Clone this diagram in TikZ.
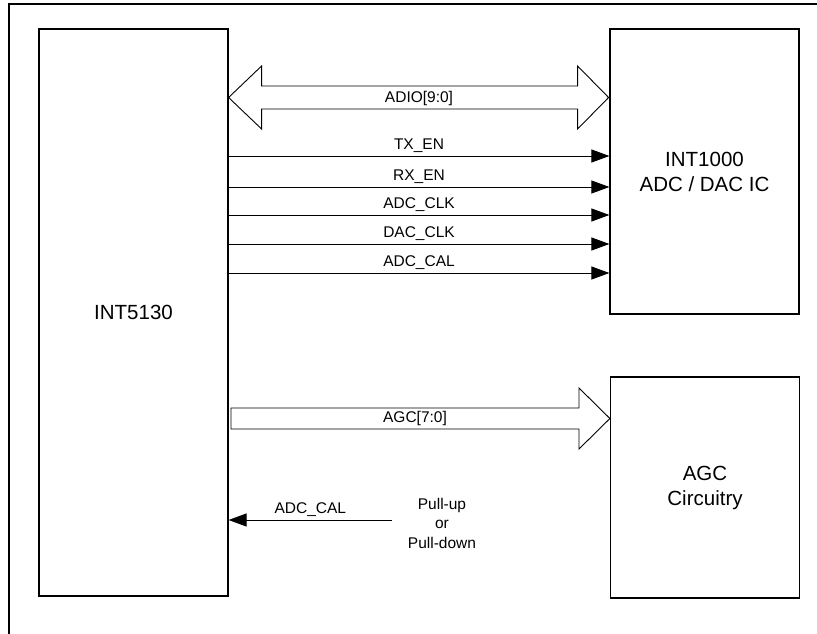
\documentclass[tikz,border=0pt]{standalone}
\usepackage{fontspec}
\setmainfont{Liberation Sans}
\usetikzlibrary{arrows.meta, positioning}

\begin{document}
\begin{tikzpicture}[x=1pt, y=-1pt, >={Triangle[length=18pt,width=13pt]},
  blk/.style={draw, line width=1.2pt, inner sep=0pt, align=center, font=\fontsize{20.5}{25}\selectfont},
  sig/.style={->, line width=1pt},
  lbl/.style={font=\fontsize{15.5}{19.5}\selectfont},
  bus/.style={draw, line width=0.9pt, fill=white}]
  \useasboundingbox (0,0) rectangle (817,634);

  % outer frame (only the top and left edges show)
  \draw[line width=1.2pt] (9,634) -- (9,4) -- (817,4);

  % blocks
  \node[blk, minimum width=189pt, minimum height=567pt] (int5130) at (133.5,312.5) {INT5130};
  \node[blk, minimum width=189pt, minimum height=285pt] (int1000) at (704.5,171.5) {INT1000\\ADC / DAC IC};
  \node[blk, minimum width=189pt, minimum height=221pt] (agc) at (705,487.5) {AGC\\Circuitry};

  % ADIO bus (both ways)
  \coordinate (adioL) at (int5130.east |- 0,97.5);
  \draw[bus] (adioL) -- ++(33,-31.5) -- ++(0,20) -- ++(316,0) -- ++(0,-20) -- ++(31,31.5)
    -- ++(-31,31.5) -- ++(0,-20) -- ++(-316,0) -- ++(0,20) -- cycle;
  \node[lbl] (adio) at (419,98) {ADIO[9:0]};

  % control lines
  \foreach \y/\name in {156/TX\_EN, 187/RX\_EN, 215/ADC\_CLK, 244/DAC\_CLK, 273/ADC\_CAL}
    \draw[sig] (int5130.east |- 0,\y) -- (int1000.west |- 0,\y) node[lbl, midway, above=0pt] {\name};

  % AGC bus
  \draw[bus] (231,408) -- (579,408) -- (579,388) -- (agc.west |- 0,418.5) -- (579,449)
    -- (579,429) -- (231,429) -- cycle;
  \node[lbl] (agcbus) at (415,418.5) {AGC[7:0]};

  % strap
  \node[lbl, align=center] (pull) at (442,523) {Pull-up\\or\\Pull-down};
  \coordinate (pullend) at (392,520);
  \draw[sig] (pullend) -- (int5130.east |- pullend) node[lbl, midway, above=0pt] {ADC\_CAL};
\end{tikzpicture}
\end{document}
